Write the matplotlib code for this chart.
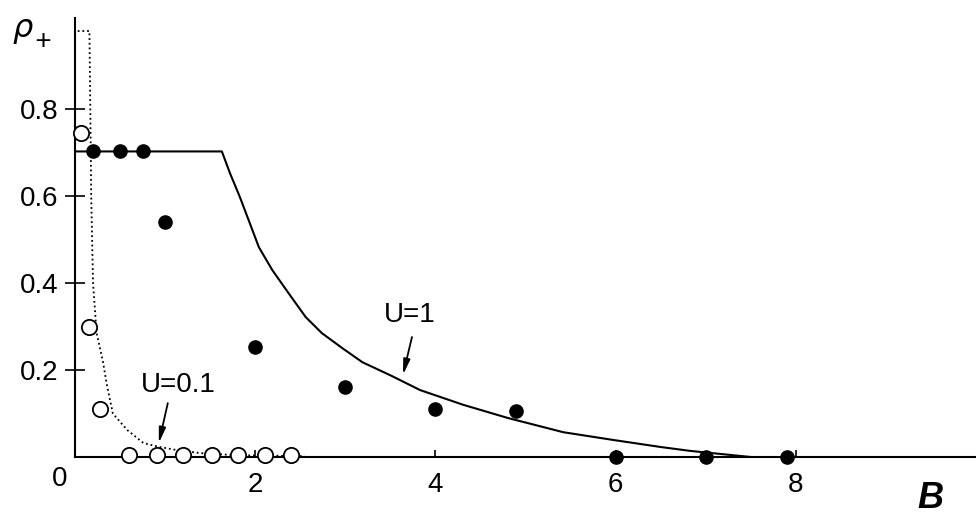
import matplotlib.pyplot as plt

plt.rcParams['font.family'] = ['Liberation Sans', 'DejaVu Sans']

# U=1 : filled circles (simulation) and solid curve (theory)
b_u1 = [0.2, 0.5, 0.75, 1.0, 2.0, 3.0, 4.0, 4.9, 6.0, 7.0, 7.9]
rho_u1 = [0.705, 0.705, 0.705, 0.54, 0.253, 0.16, 0.11, 0.105, 0.0, 0.0, 0.0]

b_u1_line = [0.0, 1.63, 1.72, 1.83, 1.94, 2.04, 2.19, 2.37, 2.56, 2.74, 2.97, 3.19, 3.5,
             3.83, 4.31, 4.8, 5.42, 5.98, 6.5, 6.83, 7.5]
rho_u1_line = [0.703, 0.703, 0.653, 0.598, 0.538, 0.483, 0.43, 0.377, 0.322, 0.285, 0.25,
               0.218, 0.188, 0.154, 0.12, 0.09, 0.057, 0.039, 0.023, 0.014, 0.0]

# U=0.1 : open circles and dotted curve
b_u01 = [0.07, 0.15, 0.28, 0.6, 0.91, 1.2, 1.52, 1.81, 2.11, 2.4]
rho_u01 = [0.745, 0.30, 0.11, 0.005, 0.005, 0.005, 0.005, 0.005, 0.005, 0.005]

b_u01_line = [0.03, 0.16, 0.17, 0.18, 0.2, 0.24, 0.31, 0.35, 0.42, 0.58, 0.76, 0.94,
              1.13, 1.39, 1.8, 2.55]
rho_u01_line = [0.98, 0.98, 0.8, 0.6, 0.4, 0.285, 0.22, 0.17, 0.10, 0.062, 0.032, 0.023,
                0.016, 0.009, 0.004, 0.002]

xticks = [2, 4, 6, 8]
yticks = [0.2, 0.4, 0.6, 0.8]
ytick_labels = ['0.2', '0.4', '0.6', '0.8']


def main():
    fig = plt.figure(figsize=(9.76, 5.18), dpi=100)
    ax = fig.add_axes([75 / 976, 1 - 457 / 518, 1 - 75 / 976, (457 - 18) / 518])

    ax.plot(b_u1_line, rho_u1_line, color='k', lw=1.5, zorder=2)
    ax.plot(b_u01_line, rho_u01_line, color='k', lw=1.3, ls=(0, (1, 1.6)), zorder=2)

    ax.plot(b_u1, rho_u1, 'o', color='k', ms=9.5, zorder=4, clip_on=False)
    ax.plot(b_u01, rho_u01, 'o', mfc='white', mec='k', mew=1.3, ms=11, zorder=5, clip_on=False)

    ax.set_xlim(0, 10)
    ax.set_ylim(0, 1.01)

    for s in ['top', 'right']:
        ax.spines[s].set_visible(False)
    for s in ['left', 'bottom']:
        ax.spines[s].set_linewidth(1.5)

    ax.set_xticks(xticks)
    ax.set_xticklabels([str(t) for t in xticks])
    ax.set_yticks(yticks)
    ax.set_yticklabels(ytick_labels)
    ax.tick_params(axis='x', direction='in', length=5, width=1.2, pad=11, labelsize=20)
    ax.tick_params(axis='y', direction='inout', length=14, width=1.2, pad=5, labelsize=20)

    # "0" at the origin, set left of the axis
    ax.text(-0.17, -0.05, '0', ha='center', va='center', fontsize=20)

    # axis labels
    fig.text(12 / 976, 1 - 16 / 518, r'$\rho$', ha='left', va='top', fontsize=23)
    fig.text(42 / 976, 1 - 42 / 518, '+', ha='center', va='center', fontsize=20,
             fontstyle='italic')
    fig.text(930 / 976, 1 - 498 / 518, 'B', ha='center', va='center',
             fontsize=26, fontweight='bold', fontstyle='italic')

    # curve labels with arrows
    arrow = dict(arrowstyle='-|>,head_length=0.9,head_width=0.2', color='k', lw=1.3,
                 shrinkA=0, shrinkB=0)
    ax.text(3.72, 0.326, 'U=1', ha='center', va='center', fontsize=20)
    ax.annotate('', xy=(3.64, 0.189), xytext=(3.74, 0.276), arrowprops=arrow)
    ax.text(1.15, 0.166, 'U=0.1', ha='center', va='center', fontsize=20)
    ax.annotate('', xy=(0.93, 0.032), xytext=(1.03, 0.124), arrowprops=arrow)

    fig.savefig('out.png', dpi=100)


if __name__ == "__main__":
    main()
